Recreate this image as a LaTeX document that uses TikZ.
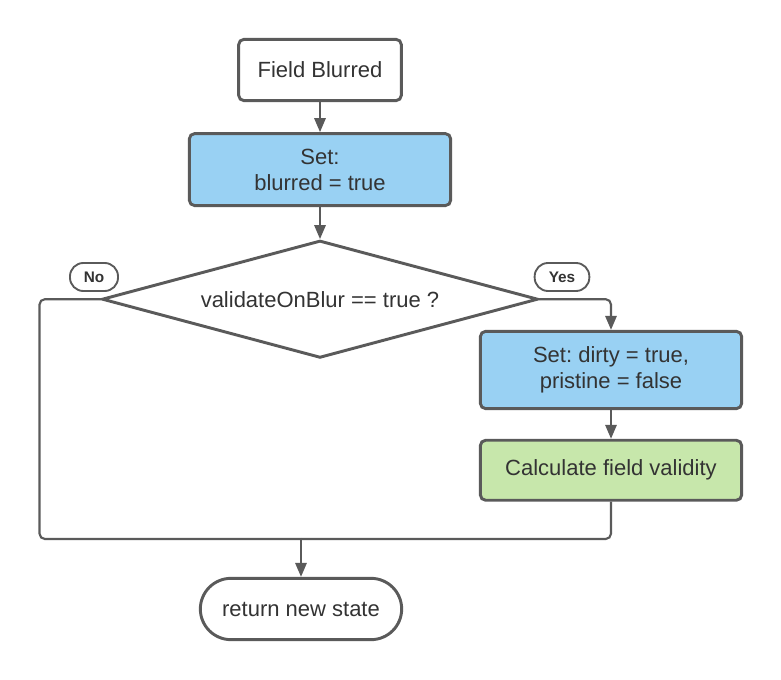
\documentclass[tikz,border=0pt]{standalone}
\usepackage{fontspec}
\setmainfont{Liberation Sans}
\usepackage{tikz}
\usetikzlibrary{shapes.geometric,arrows.meta,positioning}
\definecolor{linegray}{HTML}{5A5A5A}
\definecolor{textgray}{HTML}{333333}
\definecolor{setblue}{HTML}{99D1F3}
\definecolor{calcgreen}{HTML}{C7E7AB}
\frenchspacing
\tikzset{
  box/.style={draw=linegray, line width=2.2pt, rounded corners=4pt, align=center,
    text=textgray, font=\fontsize{16.5}{19.5}\selectfont, inner sep=0pt},
  startbox/.style={box, fill=white, minimum width=122pt, minimum height=46pt},
  setbox/.style={box, fill=setblue, minimum width=196pt},
  calcbox/.style={box, fill=calcgreen, minimum width=196pt, minimum height=45pt},
  decision/.style={diamond, draw=linegray, line width=2.2pt, aspect=3.7, inner sep=0pt,
    minimum width=327pt, minimum height=88pt, text=textgray, font=\fontsize{16.5}{19.5}\selectfont},
  terminal/.style={box, fill=white, rounded corners=23pt, minimum width=151pt, minimum height=46pt},
  answer/.style={draw=linegray, line width=1.4pt, rounded corners=10pt, inner sep=0pt,
    minimum height=21pt, text=textgray, font=\bfseries\fontsize{11.5}{13}\selectfont},
  flow/.style={draw=linegray, line width=1.6pt, rounded corners=4pt,
    -{Triangle[length=10.5pt,width=8.5pt]}},
  link/.style={draw=linegray, line width=1.6pt, rounded corners=4pt}
}
\begin{document}
\begin{tikzpicture}[x=0.75pt, y=-0.75pt]
    \useasboundingbox (0,0) rectangle (781,680);
    \node[startbox] (blurred) at (320,70) {Field Blurred};
    \node[setbox, minimum height=54pt, below=22.5pt of blurred] (setblur) {Set:\\blurred = true};
    \node[decision, below=24pt of setblur] (check) {validateOnBlur == true ?};
    \node[setbox, minimum height=58pt] (dirty) at (611,370) {Set: dirty = true,\\pristine = false};
    \node[calcbox, below=21.5pt of dirty] (calc) {Calculate field validity};
    \node[terminal] (ret) at (301,609) {return new state};
    \node[answer, minimum width=36pt] (no) at (94,277) {No};
    \node[answer, minimum width=41pt] (yes) at (562,277) {Yes};
    \coordinate (merge) at (301,539);
    \draw[flow] (blurred) -- (setblur);
    \draw[flow] (setblur) -- (check);
    \draw[flow] (check.east) -| (dirty.north);
    \draw[flow] (dirty) -- (calc);
    \draw[link] (check.west) -- ++(-61,0) |- (merge);
    \draw[link] (calc.south) |- (merge);
    \draw[flow] (merge) -- (ret.north);
\end{tikzpicture}
\end{document}
